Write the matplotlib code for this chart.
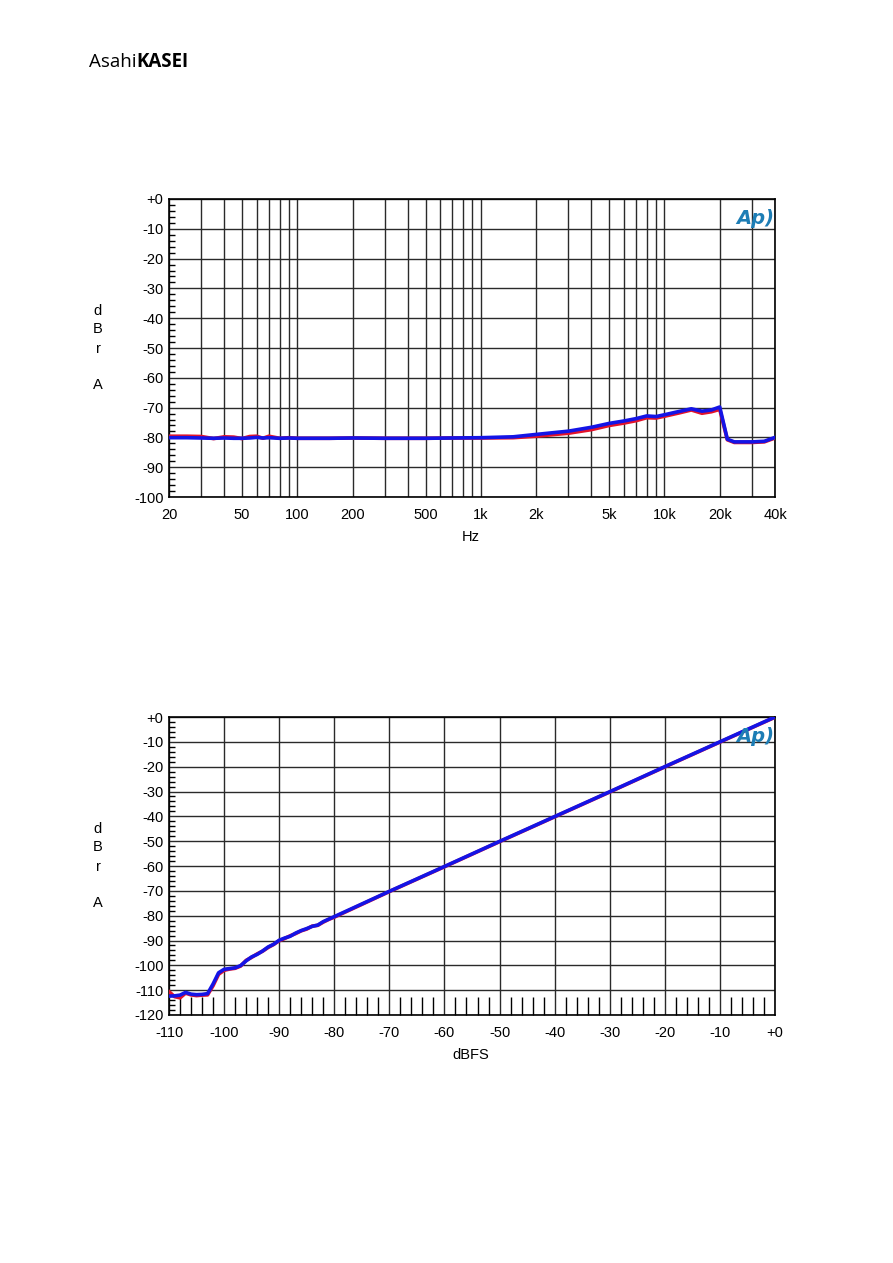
import matplotlib
matplotlib.use('Agg')
import matplotlib.pyplot as plt
from matplotlib.ticker import MultipleLocator, FixedLocator, NullFormatter
import numpy as np

# --- datos: respuesta en frecuencia (dBr A vs Hz) ---
freq_hz = [20, 25, 30, 35, 40, 45, 50, 55, 60, 65, 70, 80, 90, 100, 150, 200, 300,
           500, 700, 1000, 1500, 2000, 3000, 4000, 5000, 6000, 7000, 8000, 9000,
           10000, 12000, 14000, 16000, 18000, 20000, 22000, 24000, 30000, 35000, 40000]
resp_azul = [-80.1, -80.1, -80.2, -80.3, -80.2, -80.3, -80.3, -80.2, -80.0, -80.2, -80.1,
             -80.3, -80.2, -80.3, -80.3, -80.2, -80.3, -80.3, -80.2, -80.1, -79.8, -79.0,
             -77.9, -76.6, -75.3, -74.5, -73.7, -72.8, -73.0, -72.4, -71.3, -70.4, -71.2,
             -70.8, -69.8, -80.6, -81.5, -81.5, -81.3, -80.0]
resp_roja = [-79.6, -79.6, -79.7, -80.4, -79.8, -79.9, -80.4, -79.7, -79.6, -80.3, -79.6,
             -80.3, -80.1, -80.3, -80.3, -80.2, -80.3, -80.3, -80.2, -80.2, -80.1, -79.6,
             -78.6, -77.4, -76.0, -75.2, -74.4, -73.4, -73.5, -72.9, -71.8, -70.8, -71.9,
             -71.4, -70.6, -80.8, -81.7, -81.7, -81.5, -80.2]

# --- datos: linealidad (dBr A vs dBFS) ---
nivel_dbfs = [-110, -109, -108, -107, -106, -105, -104, -103, -102, -101, -100, -99, -98,
              -97, -96, -95, -94, -93, -92, -91, -90, -89, -88, -87, -86, -85, -84, -83,
              -82, -81, -80, -70, -60, -50, -40, -30, -20, -10, 0]
lin_azul = [-112.4, -112.3, -112.0, -110.9, -111.6, -111.8, -111.7, -111.4, -107.5, -103.0,
            -101.6, -101.3, -101.0, -100.1, -98.2, -96.6, -95.6, -94.2, -92.6, -91.5,
            -89.9, -89.0, -88.3, -87.0, -86.0, -85.2, -84.3, -83.8, -82.4, -81.4, -80.4,
            -70.2, -60.2, -50.1, -40.1, -30.1, -20.0, -10.0, 0.0]
lin_roja = [-110.6, -112.6, -113.1, -111.2, -111.9, -112.2, -112.0, -111.9, -108.2, -103.6,
            -102.0, -101.5, -101.2, -100.3, -98.0, -96.8, -95.4, -94.3, -92.8, -91.6,
            -90.1, -89.2, -88.1, -87.2, -86.1, -85.4, -84.2, -83.9, -82.6, -81.5, -80.6,
            -70.3, -60.3, -50.2, -40.2, -30.2, -20.1, -10.1, -0.1]

etiquetas_hz = ['20', '50', '100', '200', '500', '1k', '2k', '5k', '10k', '20k', '40k']
ticks_hz = [20, 50, 100, 200, 500, 1000, 2000, 5000, 10000, 20000, 40000]

W, H = 893, 1263
fig = plt.figure(figsize=(W / 100, H / 100), dpi=100)
fig.patch.set_facecolor('white')

FUENTE = 'Liberation Sans'
ROJO = '#e3122a'
AZUL = '#1414e6'
GRID = '#2a2a2a'
AP_COLOR = '#1d7db5'
TAM = 10.5


def caja(x0, y0, x1, y1):
    return [x0 / W, 1 - y1 / H, (x1 - x0) / W, (y1 - y0) / H]


def estilo_eje(ax):
    for s in ax.spines.values():
        s.set_color('black')
        s.set_linewidth(1.2)
    ax.tick_params(which='major', length=0, labelsize=TAM, colors='black')
    ax.tick_params(axis='y', which='major', pad=4)
    ax.tick_params(axis='x', which='major', pad=8)
    for lab in ax.get_xticklabels() + ax.get_yticklabels():
        lab.set_fontfamily(FUENTE)


def etiqueta_dbr(y_px):
    # letras apiladas "d B r  A"
    for letra, dy in zip(['d', 'B', 'r', 'A'], [0, 18, 38, 74]):
        fig.text(98 / W, 1 - (y_px + dy) / H, letra, ha='center', va='center',
                 fontsize=10.5, family=FUENTE)


def logo_ap(ax):
    ax.text(0.967, 0.935, 'Ap)', transform=ax.transAxes, ha='center', va='center',
            fontsize=14, fontstyle='italic', fontweight='bold', color=AP_COLOR,
            family='DejaVu Sans', zorder=5)


def etiquetas_db(valores):
    return ['+0' if v == 0 else str(v) for v in valores]


# 1. Respuesta en frecuencia
ax1 = fig.add_axes(caja(169, 199, 775, 497))
ax1.set_xscale('log')
ax1.plot(freq_hz, resp_roja, color=ROJO, linewidth=2.6, zorder=3)
ax1.plot(freq_hz, resp_azul, color=AZUL, linewidth=2.6, zorder=4)
ax1.set_xlim(20, 40000)
ax1.set_ylim(-100, 0)
ax1.set_xticks(ticks_hz)
ax1.set_xticklabels(etiquetas_hz)
rejilla_hz = [d * m for d in [10, 100, 1000, 10000] for m in range(1, 10)
              if 20 <= d * m <= 40000 and d * m not in ticks_hz]
ax1.xaxis.set_minor_locator(FixedLocator(rejilla_hz))
ax1.xaxis.set_minor_formatter(NullFormatter())
ax1.tick_params(axis='x', which='minor', length=0)
ax1.grid(True, which='both', axis='x', color=GRID, linewidth=1.0)
ax1.set_yticks(np.arange(-100, 1, 10))
ax1.set_yticklabels(etiquetas_db(np.arange(-100, 1, 10)))
ax1.yaxis.set_minor_locator(MultipleLocator(2))
ax1.grid(True, which='major', axis='y', color=GRID, linewidth=1.0)
estilo_eje(ax1)
ax1.tick_params(axis='y', which='minor', direction='in', length=4, width=1, left=True)
fig.text(471 / W, 1 - 537 / H, 'Hz', ha='center', va='center', fontsize=10.5, family=FUENTE)
etiqueta_dbr(311)
logo_ap(ax1)

# 2. Linealidad
ax2 = fig.add_axes(caja(169, 717, 775, 1015))
ax2.plot(nivel_dbfs, lin_roja, color=ROJO, linewidth=2.6, zorder=3)
ax2.plot(nivel_dbfs, lin_azul, color=AZUL, linewidth=2.6, zorder=4)
ax2.set_xlim(-110, 0)
ax2.set_ylim(-120, 0)
ax2.set_xticks(np.arange(-110, 1, 10))
ax2.set_xticklabels(etiquetas_db(np.arange(-110, 1, 10)))
ax2.set_yticks(np.arange(-120, 1, 10))
ax2.set_yticklabels(etiquetas_db(np.arange(-120, 1, 10)))
ax2.xaxis.set_minor_locator(MultipleLocator(2))
ax2.yaxis.set_minor_locator(MultipleLocator(2))
ax2.grid(True, which='major', color=GRID, linewidth=1.0)
estilo_eje(ax2)
ax2.tick_params(axis='x', which='minor', direction='in', length=13, width=1, bottom=True)
ax2.tick_params(axis='y', which='minor', direction='in', length=4, width=1, left=True)
fig.text(471 / W, 1 - 1055 / H, 'dBFS', ha='center', va='center', fontsize=10.5, family=FUENTE)
etiqueta_dbr(829)
logo_ap(ax2)

# Logotipo de cabecera
t1 = fig.text(89 / W, 1 - 62 / H, 'Asahi', ha='left', va='center', fontsize=13.5,
              family='Open Sans', color='black')
fig.canvas.draw()
bb = t1.get_window_extent()
fig.text(bb.x1 / W, 1 - 62 / H, 'KASEI', ha='left', va='center', fontsize=13.5,
         family='Open Sans', fontweight='bold', color='black')

fig.savefig('out.png', dpi=100, facecolor='white')
plt.close(fig)
